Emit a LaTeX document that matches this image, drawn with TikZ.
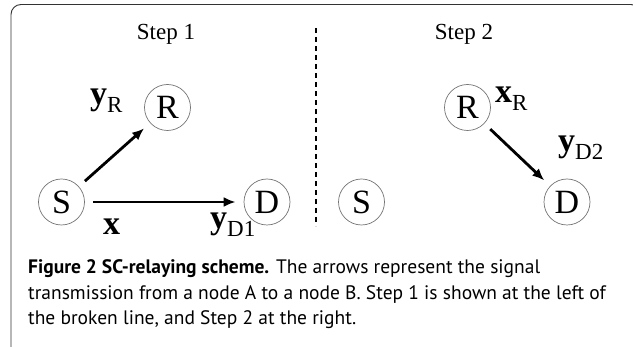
\documentclass[tikz,border=0pt]{standalone}
\usepackage{fontspec}
\setmainfont{Liberation Serif}
\newfontfamily\capfont{PT Sans}
\usetikzlibrary{arrows.meta,calc}

\newcommand{\sig}[2]{\textbf{#1}\raisebox{-8pt}{\fontsize{23}{23}\selectfont #2}}

\begin{document}
\begin{tikzpicture}[x=1pt,y=-1pt]

\tikzset{station/.style={draw=black!55,line width=0.7pt,shape=circle,minimum size=46pt,inner sep=0pt,font=\fontsize{34}{34}\selectfont},
link/.style={line width=2.8pt,-{Latex[length=12pt,width=10pt]},shorten >=8pt,shorten <=8pt},
siglabel/.style={anchor=base west,inner sep=0pt,font=\fontsize{34}{34}\selectfont},
steplabel/.style={anchor=base,inner sep=0pt,font=\fontsize{23}{23}\selectfont},
capline/.style={anchor=base west,inner sep=0pt,font=\capfont\fontsize{19.5}{23}\selectfont}}

\useasboundingbox (0,0) rectangle (633,347);

% Frame (open at the bottom and right, as cut off)
\begin{scope}
\clip (0,0) rectangle (633,347);
\draw[black!80,line width=0.9pt,rounded corners=10pt] (11,360) -- (11,4.5) -- (641,4.5) -- (641,360);
\end{scope}

% Step 1 nodes
\node[station] (s1) at (61.5,202) {S};
\node[station] (r1) at (167.5,107.5) {R};
\node[station] (d1) at (267,202) {D};

% Step 2 nodes
\coordinate (stepTwo) at (300,0);
\node[station] (s2) at ($(s1) + (stepTwo)$) {S};
\node[station] (r2) at ($(r1) + (stepTwo)$) {R};
\node[station] (d2) at ($(d1) + (stepTwo)$) {D};

% Titles
\node[steplabel] (step1) at (166,40) {Step 1};
\node[steplabel] (step2) at (464,40) {Step 2};

% Broken line
\coordinate (divTop) at (316,28);
\coordinate (divBot) at (316,226);
\draw[line width=1.2pt,dash pattern=on 5pt off 4pt] (divTop) -- (divBot);

% Transmissions
\draw[link] (s1) -- (r1);
\draw[link] (s1) -- (d1);
\draw[link] (r2) -- (d2);

% Signals
\node[siglabel] (yR) at (90,105) {\sig{y}{R}};
\node[siglabel] (x) at (103,235) {\textbf{x}};
\node[siglabel] (yD1) at (210,229) {\sig{y}{D1}};
\node[siglabel] (xR) at (495,103) {\sig{x}{R}};
\node[siglabel] (yD2) at (558,152) {\sig{y}{D2}};

% Caption
\node[capline] (cap1) at (28,273.5) {\textbf{Figure 2 SC-relaying scheme.} The arrows represent the signal};
\node[capline] (cap2) at (28,299.5) {transmission from a node A to a node B. Step 1 is shown at the left of};
\node[capline] (cap3) at (28,325) {the broken line, and Step 2 at the right.};

\end{tikzpicture}
\end{document}
